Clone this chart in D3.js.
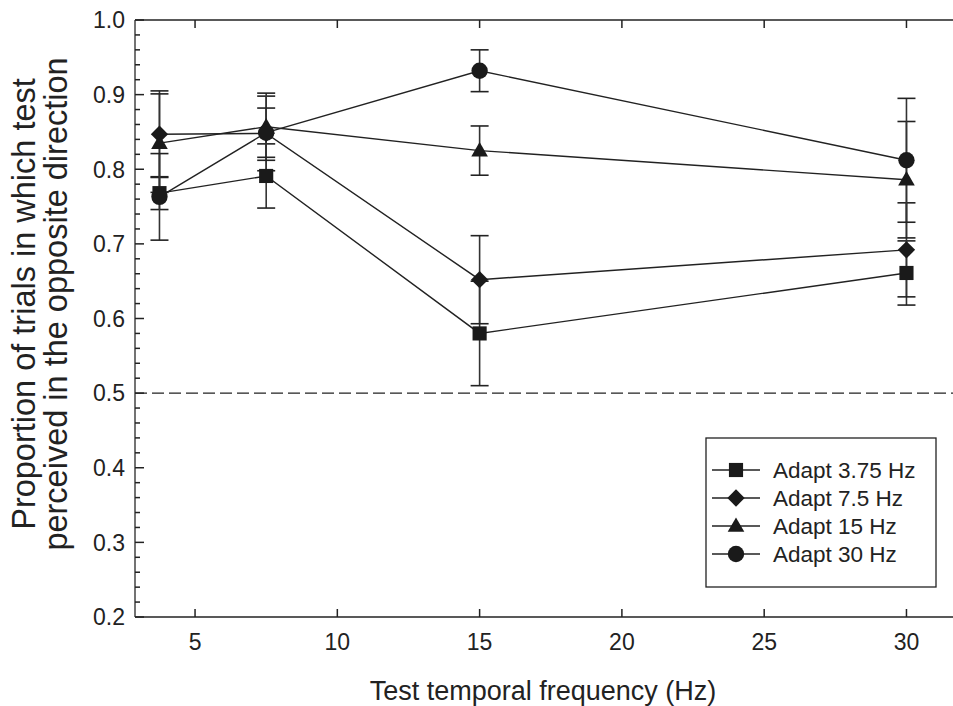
<!DOCTYPE html>
<html><head><meta charset="utf-8">
<script src="https://cdn.jsdelivr.net/npm/d3@7"></script>
<style>body{margin:0;background:#fff;} svg{display:block;} text{font-family:"Liberation Sans",Arial,Helvetica,sans-serif;fill:#222;}</style>
</head><body>
<script>
// ---- data ----
const testFreq = [3.75, 7.5, 15, 30];
const seriesNames = ["Adapt 3.75 Hz", "Adapt 7.5 Hz", "Adapt 15 Hz", "Adapt 30 Hz"];
const adapt375 = [0.768, 0.791, 0.580, 0.661];
const adapt375Err = [0.022, 0.043, 0.070, 0.043];
const adapt75 = [0.847, 0.848, 0.652, 0.692];
const adapt75Err = [0.058, 0.050, 0.059, 0.063];
const adapt15 = [0.835, 0.857, 0.825, 0.786];
const adapt15Err = [0.066, 0.045, 0.033, 0.078];
const adapt30 = [0.763, 0.849, 0.932, 0.812];
const adapt30Err = [0.058, 0.033, 0.028, 0.083];
const xTicks = [5, 10, 15, 20, 25, 30];
const yTicks = [0.2, 0.3, 0.4, 0.5, 0.6, 0.7, 0.8, 0.9, 1.0];
const chanceLevel = 0.5;

const W = 953, H = 706;
const svg = d3.select("body").append("svg").attr("width", W).attr("height", H);
const x = d3.scaleLinear().domain([2.89, 31.6]).range([135, 952]);
const y = d3.scaleLinear().domain([0.2, 1.0]).range([617, 20]);
const ink = "#222";

// frame
const g = svg.append("g");
g.append("line").attr("x1", 135).attr("x2", W).attr("y1", y(1)).attr("y2", y(1)).attr("stroke", ink).attr("stroke-width", 1.5);
g.append("line").attr("x1", 135).attr("x2", W).attr("y1", y(0.2)).attr("y2", y(0.2)).attr("stroke", ink).attr("stroke-width", 1.5);
g.append("line").attr("x1", 135).attr("x2", 135).attr("y1", y(1)).attr("y2", y(0.2)).attr("stroke", "#444").attr("stroke-width", 1.5);

// y ticks
const minor = d3.range(0.2, 1.0001, 0.02);
minor.forEach(v => {
  const isMajor = Math.abs(v * 10 - Math.round(v * 10)) < 1e-6;
  g.append("line").attr("x1", 135).attr("x2", 135 + (isMajor ? 9 : 5)).attr("y1", y(v)).attr("y2", y(v)).attr("stroke", ink).attr("stroke-width", 1.5);
});
yTicks.forEach(v => {
  g.append("text").attr("x", 125).attr("y", y(v)).attr("dy", "0.36em").attr("text-anchor", "end").attr("font-size", 23).text(v.toFixed(1));
});
// x ticks
xTicks.forEach(v => {
  g.append("line").attr("x1", x(v)).attr("x2", x(v)).attr("y1", y(0.2)).attr("y2", y(0.2) - 8).attr("stroke", ink).attr("stroke-width", 1.5);
  g.append("line").attr("x1", x(v)).attr("x2", x(v)).attr("y1", y(1)).attr("y2", y(1) + 8).attr("stroke", ink).attr("stroke-width", 1.5);
  g.append("text").attr("x", x(v)).attr("y", 642).attr("dy", "0.36em").attr("text-anchor", "middle").attr("font-size", 23).text(v);
});

// titles
svg.append("text").attr("x", 543).attr("y", 700).attr("text-anchor", "middle").attr("font-size", 27).text("Test temporal frequency (Hz)");
const yt = svg.append("text").attr("transform", "translate(0,304) rotate(-90)").attr("text-anchor", "middle").attr("font-size", 32.5);
yt.append("tspan").attr("x", 0).attr("y", 35).text("Proportion of trials in which test");
yt.append("tspan").attr("x", 0).attr("y", 67).text("perceived in the opposite direction");

// chance line
g.append("line").attr("x1", 135).attr("x2", W).attr("y1", y(chanceLevel)).attr("y2", y(chanceLevel))
  .attr("stroke", ink).attr("stroke-width", 1.3).attr("stroke-dasharray", "12,5");

// series
const series = [
  {name: seriesNames[0], vals: adapt375, err: adapt375Err, sym: "square"},
  {name: seriesNames[1], vals: adapt75, err: adapt75Err, sym: "diamond"},
  {name: seriesNames[2], vals: adapt15, err: adapt15Err, sym: "triangle"},
  {name: seriesNames[3], vals: adapt30, err: adapt30Err, sym: "circle"}
];
function symPath(s) {
  if (s === "square") return d3.symbol().type(d3.symbolSquare).size(200)();
  if (s === "diamond") return d3.symbol().type(d3.symbolSquare).size(150)();
  if (s === "triangle") return d3.symbol().type(d3.symbolTriangle).size(120)();
  return d3.symbol().type(d3.symbolCircle).size(210)();
}
function symTransform(s, px, py) {
  if (s === "diamond") return `translate(${px},${py}) rotate(45)`;
  if (s === "triangle") return `translate(${px},${py + 1})`;
  return `translate(${px},${py})`;
}
const line = d3.line().x((d, i) => x(testFreq[i])).y(d => y(d));
series.forEach(s => {
  g.append("path").attr("d", line(s.vals)).attr("fill", "none").attr("stroke", ink).attr("stroke-width", 1.4);
});
series.forEach(s => {
  s.vals.forEach((v, i) => {
    const cx = x(testFreq[i]);
    const lo = y(v - s.err[i]), hi = y(v + s.err[i]);
    g.append("line").attr("x1", cx).attr("x2", cx).attr("y1", lo).attr("y2", hi).attr("stroke", "#333").attr("stroke-width", 1.6);
    [lo, hi].forEach(yy => g.append("line").attr("x1", cx - 9).attr("x2", cx + 9).attr("y1", yy).attr("y2", yy).attr("stroke", "#222").attr("stroke-width", 1.6));
  });
});
series.forEach(s => {
  s.vals.forEach((v, i) => {
    g.append("path").attr("d", symPath(s.sym)).attr("transform", symTransform(s.sym, x(testFreq[i]), y(v))).attr("fill", "#1a1a1a");
  });
});

// legend
const lg = svg.append("g");
lg.append("rect").attr("x", 706).attr("y", 438).attr("width", 230).attr("height", 149).attr("fill", "#fff").attr("stroke", ink).attr("stroke-width", 1.3);
series.forEach((s, i) => {
  const ly = 470 + i * 28;
  lg.append("line").attr("x1", 712).attr("x2", 760).attr("y1", ly).attr("y2", ly).attr("stroke", ink).attr("stroke-width", 1.4);
  lg.append("path").attr("d", symPath(s.sym)).attr("transform", symTransform(s.sym, 736, ly)).attr("fill", "#1a1a1a");
  lg.append("text").attr("x", 773).attr("y", ly).attr("dy", "0.36em").attr("font-size", 22.5).text(s.name);
});
</script>
</body></html>
